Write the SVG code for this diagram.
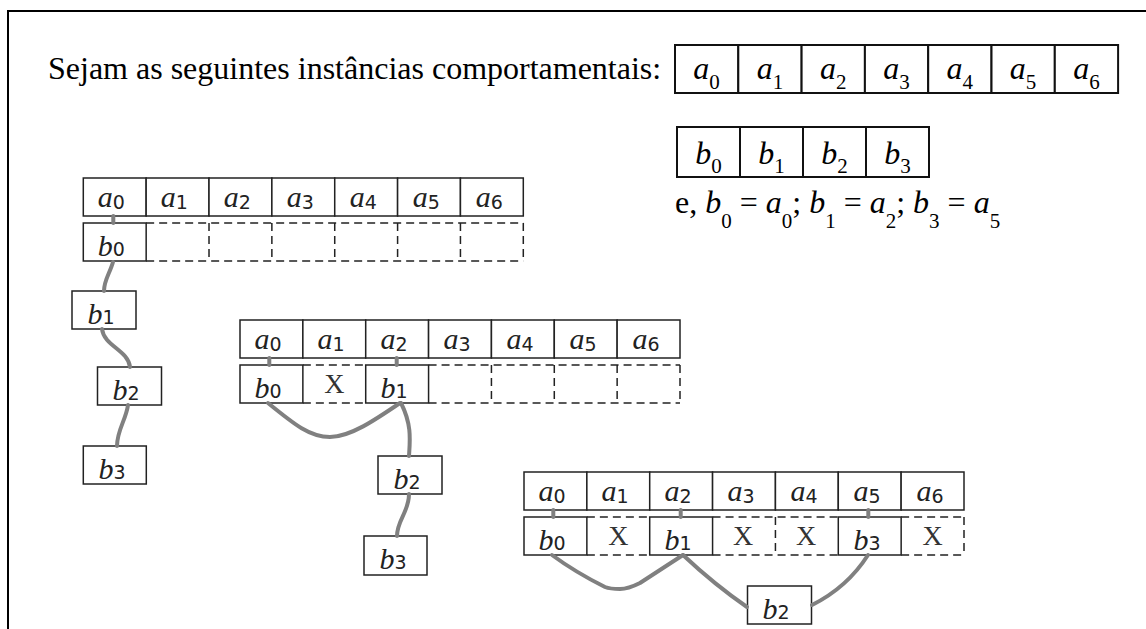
<svg xmlns="http://www.w3.org/2000/svg" width="1146" height="629" viewBox="0 0 1146 629">
<defs>
<style>
.frame{fill:none;stroke:#000;stroke-width:2}
.cell{fill:#fff;stroke:#222;stroke-width:1.5}
.bcell{fill:#fff;stroke:#111;stroke-width:2}
.dash{fill:none;stroke:#222;stroke-width:1.5;stroke-dasharray:8 5}
.conn{fill:none;stroke:#808080;stroke-width:4;stroke-linecap:round;stroke-linejoin:round}
.big{font-family:"Liberation Serif","Times New Roman",serif;font-size:32px;fill:#000}
.it{font-style:italic}
.sub{font-size:21px;font-style:normal}
.sm{font-family:"Liberation Serif","Times New Roman",serif;font-size:30px;font-style:italic;fill:#222;text-anchor:middle}
.dg{font-family:"DejaVu Sans",sans-serif;font-size:19px;font-style:normal}
.x{font-family:"Liberation Serif","Times New Roman",serif;font-size:28px;fill:#333;text-anchor:middle}
.mid{text-anchor:middle}
</style>
</defs>
<rect width="1146" height="629" fill="#fff"/>
<path class="frame" d="M8,640 V11 H1150"/>

<g id="header">
<text class="big" x="48" y="79">Sejam as seguintes instâncias comportamentais:</text>
<text class="big" x="675" y="213">e, <tspan class="it">b</tspan><tspan class="sub" dy="15">0</tspan><tspan dy="-15"> = </tspan><tspan class="it">a</tspan><tspan class="sub" dy="15">0</tspan><tspan dy="-15">; </tspan><tspan class="it">b</tspan><tspan class="sub" dy="15">1</tspan><tspan dy="-15"> = </tspan><tspan class="it">a</tspan><tspan class="sub" dy="15">2</tspan><tspan dy="-15">; </tspan><tspan class="it">b</tspan><tspan class="sub" dy="15">3</tspan><tspan dy="-15"> = </tspan><tspan class="it">a</tspan><tspan class="sub" dy="15">5</tspan></text>
</g>

<g id="table-a" transform="translate(675,45)">
<rect class="bcell" x="0" y="0" width="63.3" height="48"/>
<rect class="bcell" x="63.3" y="0" width="63.3" height="48"/>
<rect class="bcell" x="126.6" y="0" width="63.3" height="48"/>
<rect class="bcell" x="189.9" y="0" width="63.3" height="48"/>
<rect class="bcell" x="253.2" y="0" width="63.3" height="48"/>
<rect class="bcell" x="316.5" y="0" width="63.3" height="48"/>
<rect class="bcell" x="379.8" y="0" width="63.3" height="48"/>
<text class="big mid" x="31.6" y="34"><tspan class="it">a</tspan><tspan class="sub" dy="10">0</tspan></text>
<text class="big mid" x="94.9" y="34"><tspan class="it">a</tspan><tspan class="sub" dy="10">1</tspan></text>
<text class="big mid" x="158.2" y="34"><tspan class="it">a</tspan><tspan class="sub" dy="10">2</tspan></text>
<text class="big mid" x="221.5" y="34"><tspan class="it">a</tspan><tspan class="sub" dy="10">3</tspan></text>
<text class="big mid" x="284.8" y="34"><tspan class="it">a</tspan><tspan class="sub" dy="10">4</tspan></text>
<text class="big mid" x="348.1" y="34"><tspan class="it">a</tspan><tspan class="sub" dy="10">5</tspan></text>
<text class="big mid" x="411.4" y="34"><tspan class="it">a</tspan><tspan class="sub" dy="10">6</tspan></text>
</g>

<g id="table-b" transform="translate(677,127)">
<rect class="bcell" x="0" y="0" width="63" height="50"/>
<rect class="bcell" x="63" y="0" width="63" height="50"/>
<rect class="bcell" x="126" y="0" width="63" height="50"/>
<rect class="bcell" x="189" y="0" width="63" height="50"/>
<text class="big mid" x="31.5" y="37"><tspan class="it">b</tspan><tspan class="sub" dy="9">0</tspan></text>
<text class="big mid" x="94.5" y="37"><tspan class="it">b</tspan><tspan class="sub" dy="9">1</tspan></text>
<text class="big mid" x="157.5" y="37"><tspan class="it">b</tspan><tspan class="sub" dy="9">2</tspan></text>
<text class="big mid" x="220.5" y="37"><tspan class="it">b</tspan><tspan class="sub" dy="9">3</tspan></text>
</g>

<!-- Tree 1 -->
<g id="tree1-a" transform="translate(83.3,178)">
<rect class="cell" x="0" y="0" width="62.86" height="38"/>
<rect class="cell" x="62.86" y="0" width="62.86" height="38"/>
<rect class="cell" x="125.71" y="0" width="62.86" height="38"/>
<rect class="cell" x="188.57" y="0" width="62.86" height="38"/>
<rect class="cell" x="251.43" y="0" width="62.86" height="38"/>
<rect class="cell" x="314.29" y="0" width="62.86" height="38"/>
<rect class="cell" x="377.14" y="0" width="62.86" height="38"/>
<text class="sm" x="28" y="29">a<tspan class="dg" dy="2">0</tspan></text>
<text class="sm" x="91" y="29">a<tspan class="dg" dy="2">1</tspan></text>
<text class="sm" x="154" y="29">a<tspan class="dg" dy="2">2</tspan></text>
<text class="sm" x="217" y="29">a<tspan class="dg" dy="2">3</tspan></text>
<text class="sm" x="280" y="29">a<tspan class="dg" dy="2">4</tspan></text>
<text class="sm" x="343" y="29">a<tspan class="dg" dy="2">5</tspan></text>
<text class="sm" x="406" y="29">a<tspan class="dg" dy="2">6</tspan></text>
</g>
<g id="tree1-b" transform="translate(83.3,178)">
<path class="dash" d="M62.86,45 H440 M62.86,83 H440 M125.71,45 V83 M188.57,45 V83 M251.43,45 V83 M314.29,45 V83 M377.14,45 V83 M440,45 V83"/>
<rect class="cell" x="0" y="45" width="62.86" height="38"/>
<text class="sm" x="28" y="78">b<tspan class="dg">0</tspan></text>
</g>
<g id="tree1-b1">
<rect class="cell" x="72" y="291" width="64" height="38"/>
<text class="sm" x="101" y="324">b<tspan class="dg">1</tspan></text>
</g>
<g id="tree1-b2">
<rect class="cell" x="97.5" y="367" width="64" height="38"/>
<text class="sm" x="126" y="400">b<tspan class="dg">2</tspan></text>
</g>
<g id="tree1-b3">
<rect class="cell" x="83.3" y="446" width="63" height="38"/>
<text class="sm" x="112" y="479">b<tspan class="dg">3</tspan></text>
</g>

<!-- Tree 2 -->
<g id="tree2-a" transform="translate(240,320)">
<rect class="cell" x="0" y="0" width="62.86" height="38"/>
<rect class="cell" x="62.86" y="0" width="62.86" height="38"/>
<rect class="cell" x="125.71" y="0" width="62.86" height="38"/>
<rect class="cell" x="188.57" y="0" width="62.86" height="38"/>
<rect class="cell" x="251.43" y="0" width="62.86" height="38"/>
<rect class="cell" x="314.29" y="0" width="62.86" height="38"/>
<rect class="cell" x="377.14" y="0" width="62.86" height="38"/>
<text class="sm" x="28" y="29">a<tspan class="dg" dy="2">0</tspan></text>
<text class="sm" x="91" y="29">a<tspan class="dg" dy="2">1</tspan></text>
<text class="sm" x="154" y="29">a<tspan class="dg" dy="2">2</tspan></text>
<text class="sm" x="217" y="29">a<tspan class="dg" dy="2">3</tspan></text>
<text class="sm" x="280" y="29">a<tspan class="dg" dy="2">4</tspan></text>
<text class="sm" x="343" y="29">a<tspan class="dg" dy="2">5</tspan></text>
<text class="sm" x="406" y="29">a<tspan class="dg" dy="2">6</tspan></text>
</g>
<g id="tree2-b" transform="translate(240,320)">
<path class="dash" d="M62.86,45 H125.71 M62.86,83 H125.71 M188.57,45 H440 M188.57,83 H440 M251.43,45 V83 M314.29,45 V83 M377.14,45 V83 M440,45 V83"/>
<rect class="cell" x="0" y="45" width="62.86" height="38"/>
<rect class="cell" x="125.71" y="45" width="62.86" height="38"/>
<text class="sm" x="28" y="78">b<tspan class="dg">0</tspan></text>
<text class="x" x="94.3" y="73">X</text>
<text class="sm" x="154" y="78">b<tspan class="dg">1</tspan></text>
</g>
<g id="tree2-b2">
<rect class="cell" x="378" y="456" width="64" height="38"/>
<text class="sm" x="407" y="489">b<tspan class="dg">2</tspan></text>
</g>
<g id="tree2-b3">
<rect class="cell" x="364" y="536" width="63" height="39"/>
<text class="sm" x="393" y="569">b<tspan class="dg">3</tspan></text>
</g>

<!-- Tree 3 -->
<g id="tree3-a" transform="translate(524,472)">
<rect class="cell" x="0" y="0" width="62.86" height="38"/>
<rect class="cell" x="62.86" y="0" width="62.86" height="38"/>
<rect class="cell" x="125.71" y="0" width="62.86" height="38"/>
<rect class="cell" x="188.57" y="0" width="62.86" height="38"/>
<rect class="cell" x="251.43" y="0" width="62.86" height="38"/>
<rect class="cell" x="314.29" y="0" width="62.86" height="38"/>
<rect class="cell" x="377.14" y="0" width="62.86" height="38"/>
<text class="sm" x="28" y="29">a<tspan class="dg" dy="2">0</tspan></text>
<text class="sm" x="91" y="29">a<tspan class="dg" dy="2">1</tspan></text>
<text class="sm" x="154" y="29">a<tspan class="dg" dy="2">2</tspan></text>
<text class="sm" x="217" y="29">a<tspan class="dg" dy="2">3</tspan></text>
<text class="sm" x="280" y="29">a<tspan class="dg" dy="2">4</tspan></text>
<text class="sm" x="343" y="29">a<tspan class="dg" dy="2">5</tspan></text>
<text class="sm" x="406" y="29">a<tspan class="dg" dy="2">6</tspan></text>
</g>
<g id="tree3-b" transform="translate(524,472)">
<path class="dash" d="M62.86,45 H125.71 M62.86,83 H125.71 M188.57,45 H314.29 M188.57,83 H314.29 M251.43,45 V83 M377.14,45 H440 M377.14,83 H440 M440,45 V83"/>
<rect class="cell" x="0" y="45" width="62.86" height="38"/>
<rect class="cell" x="125.71" y="45" width="62.86" height="38"/>
<rect class="cell" x="314.29" y="45" width="62.86" height="38"/>
<text class="sm" x="28" y="78">b<tspan class="dg">0</tspan></text>
<text class="x" x="94.3" y="73">X</text>
<text class="sm" x="154" y="78">b<tspan class="dg">1</tspan></text>
<text class="x" x="219" y="73">X</text>
<text class="x" x="282" y="73">X</text>
<text class="sm" x="343" y="78">b<tspan class="dg">3</tspan></text>
<text class="x" x="408.6" y="73">X</text>
</g>
<g id="tree3-b2">
<rect class="cell" x="747.5" y="586" width="64" height="38"/>
<text class="sm" x="776" y="619">b<tspan class="dg">2</tspan></text>
</g>

<g id="connectors">
<path class="conn" d="M113.3,216 V223"/>
<path class="conn" d="M113,262 C110,273 104,280 104,291"/>
<path class="conn" d="M102,329 C104,346 128,350 130,367"/>
<path class="conn" d="M128,405 C126,420 117,430 117,446"/>

<path class="conn" d="M269.3,358 V365"/>
<path class="conn" d="M396.7,358 V365"/>
<path class="conn" d="M268,403 C295,425 310,437 330,437 C350,437 375,420 400,403"/>
<path class="conn" d="M401,403 C412,425 410,440 409,456"/>
<path class="conn" d="M409,494 C409,512 397,520 397,536"/>

<path class="conn" d="M553.3,510 V517"/>
<path class="conn" d="M680.7,510 V517"/>
<path class="conn" d="M868.3,510 V517"/>
<path class="conn" d="M552,555 Q575,572 605,587 Q610,589 620,589 Q628,589 640,583 L683,555"/>
<path class="conn" d="M683,555 Q715,585 747,607"/>
<path class="conn" d="M868,555 C852,580 832,595 812,605"/>
</g>
</svg>
